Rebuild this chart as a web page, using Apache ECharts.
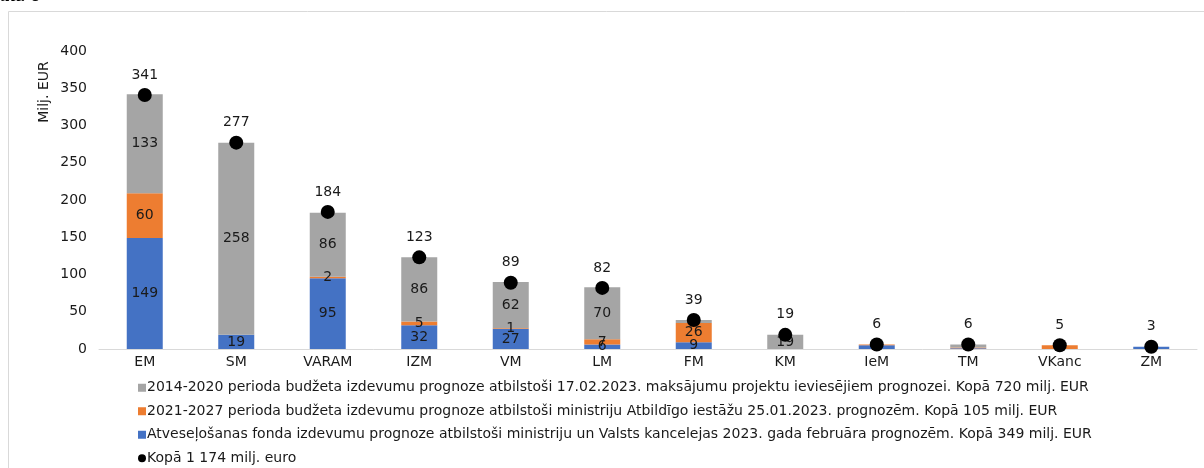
<!DOCTYPE html>
<html>
<head>
<meta charset="utf-8">
<script src="https://cdn.jsdelivr.net/npm/echarts@6/dist/echarts.min.js"></script>
<style>
  html, body { margin: 0; padding: 0; background: #fff; }
  #chart { width: 1204px; height: 468px; }
</style>
</head>
<body>
<div id="chart"></div>
<script>
// ministrijas
const categories = ['EM', 'SM', 'VARAM', 'IZM', 'VM', 'LM', 'FM', 'KM', 'IeM', 'TM', 'VKanc', 'ZM'];
// Atveseļošanas fonds
const rrfValues = [149, 19, 95, 32, 27, 6, 9, 0, 5, 1, 0, 3];
// 2021-2027
const esf2127Values = [60, 0, 2, 5, 1, 7, 26, 0, 1, 1, 5, 0];
// 2014-2020
const esf1420Values = [133, 258, 86, 86, 62, 70, 4, 19, 0, 4, 0, 0];
// kopā
const totalValues = [341, 277, 184, 123, 89, 82, 39, 19, 6, 6, 5, 3];

const legendNames = [
  '2014-2020 perioda budžeta izdevumu prognoze atbilstoši 17.02.2023. maksājumu projektu ieviesējiem prognozei. Kopā 720 milj. EUR',
  '2021-2027 perioda budžeta izdevumu prognoze atbilstoši ministriju Atbildīgo iestāžu 25.01.2023. prognozēm. Kopā 105 milj. EUR',
  'Atveseļošanas fonda izdevumu prognoze atbilstoši ministriju un Valsts kancelejas 2023. gada februāra prognozēm. Kopā 349 milj. EUR',
  'Kopā 1 174 milj. euro'
];

const font = "'DejaVu Sans', Verdana, sans-serif";
const fs = 14;

// segmenti, kuru uzraksts paliek aiz punkta, netiek rādīti
const stackOrder = [rrfValues, esf2127Values, esf1420Values];
const toData = (values) => {
  const level = stackOrder.indexOf(values);
  return values.map((v, i) => {
    if (v === 0) return null;
    let base = 0;
    for (let k = 0; k < level; k++) base += stackOrder[k][i];
    const hidden = Math.abs(totalValues[i] - (base + v / 2)) < 8;
    return hidden ? { value: v, label: { show: false } } : v;
  });
};

const barSeries = (name, values, color) => ({
  name: name,
  type: 'bar',
  stack: 'total',
  barWidth: 36,
  z: 2,
  itemStyle: { color: color },
  label: {
    show: true,
    position: 'inside',
    color: '#1a1a1a',
    fontFamily: font,
    fontSize: fs
  },
  data: toData(values)
});

const chart = echarts.init(document.getElementById('chart'));
chart.setOption({
  animation: false,
  textStyle: { fontFamily: font },
  graphic: [
    {
      type: 'rect',
      shape: { x: 8.5, y: 11.5, width: 1220, height: 500 },
      style: { fill: 'none', stroke: '#d9d9d9', lineWidth: 1 },
      silent: true
    },
    {
      type: 'text',
      left: 0,
      top: -14,
      style: { text: 'att. 8', font: 'italic bold 20px "Liberation Serif"', fill: '#000' }
    },
    {
      type: 'text',
      x: 44,
      y: 92,
      rotation: Math.PI / 2,
      style: {
        text: 'Milj. EUR',
        fontFamily: font,
        fontSize: fs,
        fill: '#1a1a1a',
        align: 'center',
        verticalAlign: 'middle'
      }
    }
  ],
  grid: {
    left: 99,
    right: 7,
    top: 51,
    bottom: 119,
    containLabel: false
  },
  legend: {
    orient: 'vertical',
    left: 138,
    top: 380,
    height: 100,
    padding: 0,
    itemGap: 8,
    itemWidth: 8,
    itemHeight: 8,
    data: [
      { name: legendNames[0], icon: 'rect' },
      { name: legendNames[1], icon: 'rect' },
      { name: legendNames[2], icon: 'rect' },
      { name: legendNames[3], icon: 'circle' }
    ],
    textStyle: { fontFamily: font, fontSize: fs, color: '#1a1a1a', lineHeight: 15.5, padding: [0, 0, 0, -4] }
  },
  xAxis: {
    type: 'category',
    data: categories,
    axisLine: { lineStyle: { color: '#d9d9d9', width: 1 } },
    axisTick: { show: false },
    axisLabel: { color: '#1a1a1a', fontSize: fs, margin: 6, fontFamily: font }
  },
  yAxis: {
    type: 'value',
    min: 0,
    max: 400,
    interval: 50,
    axisLine: { show: false },
    axisTick: { show: false },
    splitLine: { show: false },
    axisLabel: { color: '#1a1a1a', fontSize: fs, margin: 12, fontFamily: font }
  },
  series: [
    barSeries(legendNames[2], rrfValues, '#4472c4'),
    barSeries(legendNames[1], esf2127Values, '#ed7d31'),
    barSeries(legendNames[0], esf1420Values, '#a5a5a5'),
    {
      name: legendNames[3],
      type: 'scatter',
      symbol: 'circle',
      symbolSize: 14,
      z: 5,
      itemStyle: { color: '#000', opacity: 1 },
      label: {
        show: true,
        position: 'top',
        distance: 6,
        color: '#1a1a1a',
        fontFamily: font,
        fontSize: fs
      },
      data: totalValues
    }
  ]
});
</script>
</body>
</html>
